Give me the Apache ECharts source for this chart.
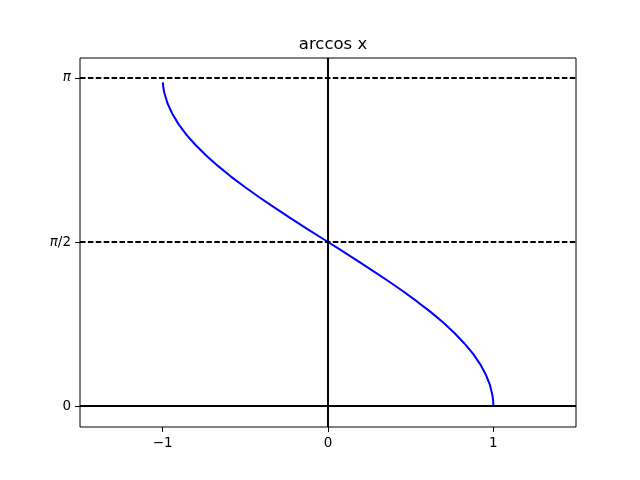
<!DOCTYPE html>
<html>
<head>
<meta charset="utf-8">
<script src="https://cdn.jsdelivr.net/npm/echarts@6/dist/echarts.min.js"></script>
<style>html,body{margin:0;padding:0;background:#fff;}#c{width:640px;height:480px;}</style>
</head>
<body>
<div id="c"></div>
<script>
// curve points (y = arccos x)
var curveY = [0, 0.05, 0.1, 0.2, 0.3, 0.4, 0.5, 0.6, 0.7, 0.8, 0.9, 1.0, 1.1, 1.2, 1.3, 1.4, 1.5, 1.6, 1.7, 1.8, 1.9, 2.0, 2.1, 2.2, 2.3, 2.4, 2.5, 2.6, 2.7, 2.8, 2.9, 3.0, 3.05, 3.1];
var curveX = [1.000, 0.999, 0.995, 0.980, 0.955, 0.921, 0.878, 0.825, 0.765, 0.697, 0.622, 0.540, 0.454, 0.362, 0.267, 0.170, 0.071, -0.029, -0.129, -0.227, -0.323, -0.416, -0.505, -0.589, -0.666, -0.737, -0.801, -0.857, -0.904, -0.942, -0.971, -0.990, -0.996, -0.999];
var xTickValues = [-1, 0, 1];
var xTickLabels = ['\u22121', '0', '1'];
var yTickValues = [0, 1.5708, 3.1416];
var yTickLabels = ['0', '{i|\u03c0}/2', '{i|\u03c0}'];
var dashedLevels = [1.5708, 3.1416];
var title = 'arccos x';

var pts = curveX.map(function (x, i) { return [x, curveY[i]]; });
function lookup(vals, labels, v) {
  for (var i = 0; i < vals.length; i++) if (Math.abs(vals[i] - v) < 1e-3) return labels[i];
  return '';
}
var chart = echarts.init(document.getElementById('c'), null, {renderer: 'canvas'});
var F = 'DejaVu Sans';
chart.setOption({
  animation: false,
  backgroundColor: '#fff',
  title: {text: title, left: 328, top: 31, textAlign: 'center',
    textStyle: {fontFamily: F, fontSize: 16.5, fontWeight: 'normal', color: '#000'}},
  grid: {left: 80, right: 64, top: 58, bottom: 53, show: true, borderColor: '#000', borderWidth: 1, backgroundColor: 'transparent'},
  xAxis: {type: 'value', min: -1.5, max: 1.5,
    axisLine: {show: false, onZero: false}, splitLine: {show: false},
    axisTick: {show: true, inside: false, customValues: xTickValues, length: 5, lineStyle: {color: '#000', width: 1}},
    axisLabel: {customValues: xTickValues, margin: 9, color: '#000', fontFamily: F, fontSize: 13.5,
      formatter: function (v) { return lookup(xTickValues, xTickLabels, v); }}},
  yAxis: {type: 'value', min: -0.2, max: 3.333,
    axisLine: {show: false, onZero: false}, splitLine: {show: false},
    axisTick: {show: true, inside: false, customValues: yTickValues, length: 5, lineStyle: {color: '#000', width: 1}},
    axisLabel: {customValues: yTickValues, margin: 9, color: '#000', fontFamily: F, fontSize: 13.5,
      formatter: function (v) { return lookup(yTickValues, yTickLabels, v); },
      rich: {i: {fontStyle: 'italic', fontFamily: F, fontSize: 13.5, color: '#000'}}}},
  series: [{
    type: 'line', data: pts, showSymbol: false, symbol: 'none',
    lineStyle: {color: '#0000ff', width: 2}, z: 2,
    markLine: {
      silent: true, symbol: ['none', 'none'], label: {show: false}, animation: false,
      data: [
        {yAxis: 0, lineStyle: {color: '#000', width: 2, type: 'solid'}},
        {xAxis: 0, lineStyle: {color: '#000', width: 2, type: 'solid'}},
        {yAxis: dashedLevels[0], lineStyle: {color: '#000', width: 2, type: [5.5, 2.4]}},
        {yAxis: dashedLevels[1], lineStyle: {color: '#000', width: 2, type: [5.5, 2.4]}}
      ]
    }
  }]
});
</script>
</body>
</html>
